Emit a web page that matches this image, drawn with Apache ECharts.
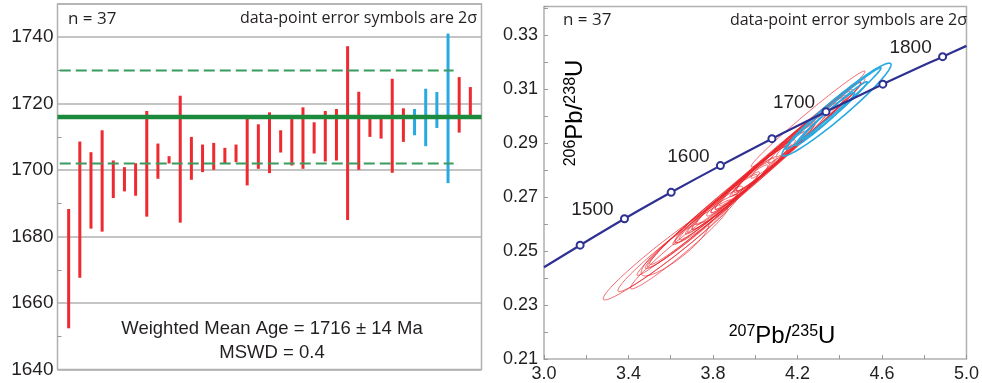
<!DOCTYPE html>
<html>
<head>
<meta charset="utf-8">
<script src="https://cdn.jsdelivr.net/npm/echarts@6/dist/echarts.min.js"></script>
<style>
  html, body { margin: 0; padding: 0; background: #fff; }
  #main { width: 982px; height: 383px; }
</style>
</head>
<body>
<div id="main"></div>
<script>
// ---- left panel: 2-sigma age range of each grain (Ma), in plot order
const ageLow  = [1652.4, 1667.6, 1682.4, 1681.5, 1691.6, 1693.6, 1692.3, 1686.0, 1697.4, 1702.0,
                 1684.2, 1697.1, 1699.4, 1700.1, 1702.1, 1702.4, 1695.4, 1700.4, 1699.1, 1705.3,
                 1701.4, 1700.4, 1705.0, 1702.6, 1702.9, 1685.0, 1700.1, 1710.0, 1709.5, 1699.2,
                 1708.5, 1710.5, 1707.2, 1712.7, 1696.1, 1711.3, 1715.4];
const ageHigh = [1688.3, 1708.6, 1705.4, 1712.0, 1702.9, 1700.9, 1702.1, 1717.8, 1708.0, 1704.2,
                 1722.4, 1710.0, 1707.7, 1708.2, 1706.7, 1707.7, 1715.6, 1713.8, 1717.4, 1712.0,
                 1715.6, 1718.9, 1714.4, 1717.8, 1718.4, 1737.3, 1723.6, 1715.4, 1715.6, 1727.5,
                 1718.6, 1718.4, 1724.5, 1723.5, 1741.1, 1728.0, 1725.0];
const blueGrains = [32, 33, 34, 35];   // grain numbers drawn in blue
const meanAge = 1716;
const meanErr = 14;
const mswd = 0.4;
const ageTicks = [1640, 1660, 1680, 1700, 1720, 1740];

// ---- right panel: concordia points (207Pb/235U, 206Pb/238U) and their ages (Ma)
const concX   = [3.00, 3.171, 3.381, 3.602, 3.835, 4.079, 4.335, 4.604, 4.887, 5.00];
const concY   = [0.2440, 0.2522, 0.2620, 0.2718, 0.2817, 0.2917, 0.3017, 0.3119, 0.3221, 0.3261];
const concAge = [null, 1450, 1500, 1550, 1600, 1650, 1700, 1750, 1800, null];
const labelledAges = [1500, 1600, 1700, 1800];

// ---- right panel: error ellipses (centre, 2-sigma, correlation), red group
const redX   = [3.60, 3.62, 3.64, 3.62, 3.70, 3.75, 3.78, 3.80, 3.82, 3.85, 3.86, 3.88, 3.90, 3.92, 3.94, 3.96, 3.98,
                4.00, 4.02, 4.04, 4.05, 4.06, 4.08, 4.10, 4.12, 4.14, 4.17, 4.20, 4.22, 4.25, 4.28, 4.30, 4.33];
const redY   = [0.2514, 0.2520, 0.2510, 0.2508, 0.2580, 0.2612, 0.2636, 0.2650, 0.2662, 0.2684, 0.2690, 0.2700,
                0.2717, 0.2730, 0.2745, 0.2757, 0.2770, 0.2785, 0.2797, 0.2812, 0.2818, 0.2825, 0.2838, 0.2852,
                0.2866, 0.2880, 0.2900, 0.2922, 0.2935, 0.2990, 0.2975, 0.2988, 0.3010];
const redSX  = [0.32, 0.27, 0.23, 0.16, 0.22, 0.26, 0.16, 0.30, 0.20, 0.24, 0.42, 0.18, 0.26, 0.15, 0.22, 0.28, 0.19,
                0.33, 0.21, 0.25, 0.14, 0.36, 0.20, 0.29, 0.23, 0.31, 0.26, 0.30, 0.24, 0.27, 0.22, 0.20, 0.19];
const redSY  = [0.0195, 0.0170, 0.0150, 0.0100, 0.0145, 0.0172, 0.0105, 0.0200, 0.0132, 0.0160, 0.0280, 0.0120,
                0.0175, 0.0100, 0.0148, 0.0188, 0.0128, 0.0222, 0.0142, 0.0170, 0.0095, 0.0245, 0.0136, 0.0198,
                0.0158, 0.0212, 0.0178, 0.0205, 0.0165, 0.0178, 0.0150, 0.0138, 0.0130];
const redRho = [0.975, 0.975, 0.975, 0.88, 0.975, 0.98, 0.95, 0.985, 0.98, 0.985, 0.992, 0.975, 0.985, 0.97, 0.985,
                0.988, 0.98, 0.99, 0.985, 0.985, 0.97, 0.99, 0.985, 0.988, 0.985, 0.99, 0.988, 0.99, 0.988, 0.99,
                0.988, 0.985, 0.985];
// blue group
const blueX   = [4.385, 4.370, 4.375, 4.330];
const blueY   = [0.3025, 0.3029, 0.3021, 0.2990];
const blueSX  = [0.258, 0.225, 0.155, 0.140];
const blueSY  = [0.0172, 0.0151, 0.0107, 0.0098];
const blueRho = [0.965, 0.99, 0.985, 0.98];

const FONT = '"Liberation Sans", Arial, sans-serif';
const NOTE_FONT = '"Open Sans", "Liberation Sans", sans-serif';
const INK = '#231f20';
const RED = '#ec2a30';
const BLUE = '#27a9e1';
const BORDER = '#b0b0b0';

const chart = echarts.init(document.getElementById('main'));

const barData = ageLow.map((lo, i) => [i + 1, lo, ageHigh[i], blueGrains.includes(i + 1) ? 1 : 0]);

const ellData = [];
redX.forEach((x, i) => ellData.push([x, redY[i], redSX[i], redSY[i], redRho[i], 0]));
blueX.forEach((x, i) => ellData.push([x, blueY[i], blueSX[i], blueSY[i], blueRho[i], 1]));

const concData = concX.map((x, i) => {
  const age = concAge[i];
  const item = { value: [x, concY[i]] };
  if (age === null) {
    item.symbol = 'none';
  } else if (labelledAges.includes(age)) {
    item.label = { show: true, formatter: String(age) };
  }
  return item;
});

function renderBar(params, api) {
  const x = api.value(0);
  const lo = api.coord([x, api.value(1)]);
  const hi = api.coord([x, api.value(2)]);
  return {
    type: 'rect',
    shape: { x: lo[0] - 1.5, y: hi[1], width: 3, height: lo[1] - hi[1] },
    style: { fill: api.value(3) ? BLUE : RED }
  };
}

function renderEllipse(params, api) {
  const cx = api.value(0), cy = api.value(1);
  const sx = api.value(2), sy = api.value(3), rho = api.value(4);
  const blue = api.value(5) === 1;
  const k = Math.sqrt(1 - rho * rho);
  const pts = [];
  for (let j = 0; j < 120; j++) {
    const a = j / 120 * Math.PI * 2;
    pts.push(api.coord([cx + sx * Math.cos(a), cy + sy * (rho * Math.cos(a) + k * Math.sin(a))]));
  }
  return {
    type: 'polygon',
    shape: { points: pts },
    style: {
      fill: 'none',
      stroke: blue ? BLUE : 'rgba(234,36,42,0.8)',
      lineWidth: blue ? 1.6 : 0.85
    }
  };
}

const subRich = {
  big: { fontSize: 24, fontFamily: FONT, color: INK, verticalAlign: 'bottom' },
  sup: { fontSize: 16, fontFamily: FONT, color: INK, verticalAlign: 'top' }
};

const option = {
  animation: false,
  textStyle: { fontFamily: FONT },
  grid: [
    { left: 57.5, top: 4, width: 424, height: 365.5, show: true, borderColor: BORDER, borderWidth: 1.5 },
    { left: 544, top: 6.5, width: 425, height: 355, show: true, borderColor: BORDER, borderWidth: 1.5 }
  ],
  xAxis: [
    { gridIndex: 0, type: 'value', min: 0, max: ageLow.length + 1,
      axisLine: { show: false }, axisTick: { show: false }, axisLabel: { show: false }, splitLine: { show: false } },
    { gridIndex: 1, type: 'value', min: 3.0, max: 5.0, interval: 0.4,
      axisLine: { show: false },
      axisTick: { show: true, inside: true, length: 4, lineStyle: { color: '#999' } },
      minorTick: { show: true, splitNumber: 2, length: 4, lineStyle: { color: '#999' } },
      axisLabel: { fontSize: 18, color: INK, margin: 6, formatter: v => v.toFixed(1) },
      splitLine: { show: false } }
  ],
  yAxis: [
    { gridIndex: 0, type: 'value', min: 1640, max: 1750, interval: 20,
      axisLine: { show: false },
      axisTick: { show: false, inside: true },
      minorTick: { show: true, splitNumber: 2, length: 4, lineStyle: { color: '#999' } },
      axisLabel: { fontSize: 19, color: INK, margin: 4, showMaxLabel: false,
        formatter: v => ageTicks.includes(Math.round(v)) ? String(Math.round(v)) : '' },
      splitLine: { show: true, lineStyle: { color: BORDER, width: 1.5 } } },
    { gridIndex: 1, type: 'value', min: 0.21, max: 0.3407, interval: 0.02,
      axisLine: { show: false },
      axisTick: { show: true, inside: true, length: 4, lineStyle: { color: '#999' } },
      minorTick: { show: true, splitNumber: 2, length: 4, lineStyle: { color: '#999' } },
      axisLabel: { fontSize: 18, color: INK, margin: 6, showMaxLabel: false, formatter: v => v.toFixed(2) },
      splitLine: { show: false } }
  ],
  series: [
    { type: 'line', xAxisIndex: 0, yAxisIndex: 0, symbol: 'none', silent: true,
      data: [[0.2, meanAge + meanErr], [35.5, meanAge + meanErr]],
      lineStyle: { color: '#3b9a5e', width: 2, type: [11, 5] } },
    { type: 'line', xAxisIndex: 0, yAxisIndex: 0, symbol: 'none', silent: true,
      data: [[0.2, meanAge - meanErr], [35.5, meanAge - meanErr]],
      lineStyle: { color: '#3b9a5e', width: 2, type: [11, 5] } },
    { type: 'custom', xAxisIndex: 0, yAxisIndex: 0, renderItem: renderBar, data: barData },
    { type: 'line', xAxisIndex: 0, yAxisIndex: 0, symbol: 'none', silent: true,
      data: [[0, meanAge], [ageLow.length + 1, meanAge]],
      lineStyle: { color: '#1c8a3d', width: 4.5 } },
    { type: 'custom', xAxisIndex: 1, yAxisIndex: 1, renderItem: renderEllipse, data: ellData },
    { type: 'line', xAxisIndex: 1, yAxisIndex: 1, data: concData, smooth: 0.3,
      symbol: 'emptyCircle', symbolSize: 7,
      lineStyle: { color: '#2e3192', width: 2.2 },
      itemStyle: { color: '#2e3192', borderWidth: 1.6 },
      label: { show: false, position: 'inside', offset: [-32, -9], fontSize: 19, color: INK, fontFamily: FONT } }
  ],
  graphic: [
    { type: 'text', x: 68, y: 19, style: { text: 'n = ' + ageLow.length, font: '17px ' + NOTE_FONT, fill: INK, verticalAlign: 'middle' } },
    { type: 'text', x: 477, y: 18, style: { text: 'data-point error symbols are 2σ', font: '16px ' + NOTE_FONT, fill: INK, align: 'right', verticalAlign: 'middle' } },
    { type: 'text', x: 272, y: 329, style: { text: 'Weighted Mean Age = ' + meanAge + ' ± ' + meanErr + ' Ma', font: '18.5px ' + FONT, fill: INK, align: 'center', verticalAlign: 'middle' } },
    { type: 'text', x: 272, y: 353, style: { text: 'MSWD = ' + mswd, font: '18.5px ' + FONT, fill: INK, align: 'center', verticalAlign: 'middle' } },
    { type: 'text', x: 563, y: 20, style: { text: 'n = ' + ellData.length, font: '17px ' + NOTE_FONT, fill: INK, verticalAlign: 'middle' } },
    { type: 'text', x: 967, y: 20, style: { text: 'data-point error symbols are 2σ', font: '16px ' + NOTE_FONT, fill: INK, align: 'right', verticalAlign: 'middle' } },
    { type: 'text', x: 575, y: 113, rotation: Math.PI / 2,
      style: { text: '{sup|206}{big|Pb/}{sup|238}{big|U}', rich: subRich, align: 'center', verticalAlign: 'middle' } },
    { type: 'text', x: 782, y: 336,
      style: { text: '{sup|207}{big|Pb/}{sup|235}{big|U}', rich: subRich, align: 'center', verticalAlign: 'middle' } }
  ]
};

chart.setOption(option);
</script>
</body>
</html>
